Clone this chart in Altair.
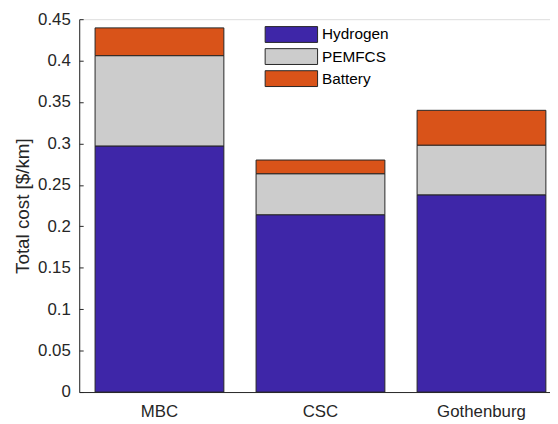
import altair as alt
import pandas as pd

categories = ["MBC", "CSC", "Gothenburg"]
series = ["Hydrogen", "PEMFCS", "Battery"]
hydrogen = [0.297, 0.214, 0.238]
pemfcs = [0.109, 0.0495, 0.060]
battery = [0.0335, 0.0165, 0.042]
y_ticks = [0, 0.05, 0.1, 0.15, 0.2, 0.25, 0.3, 0.35, 0.4, 0.45]
colors = ["#3E26A8", "#CCCCCC", "#D95319"]

rows = []
for i, c in enumerate(categories):
    for j, (s, vals) in enumerate(zip(series, [hydrogen, pemfcs, battery])):
        rows.append({"category": c, "component": s, "value": vals[i], "order": j})
df = pd.DataFrame(rows)

W, H = 476, 377
AX = "#262626"
FONT = "Liberation Sans"

xscale = alt.Scale(domain=categories, paddingInner=0.2, paddingOuter=0.062, align=0.794)
yscale = alt.Scale(domain=[0, 0.45], nice=False, zero=True)

bars = alt.Chart(df).mark_bar(stroke=AX, strokeWidth=1).encode(
    x=alt.X("category:N", scale=xscale, sort=categories,
            axis=alt.Axis(title=None, labelAngle=0, ticks=False, labelPadding=12,
                          labelFontSize=17, labelColor=AX, domainColor=AX,
                          labelFont=FONT)),
    y=alt.Y("value:Q", stack="zero", scale=yscale,
            axis=alt.Axis(title="Total cost [$/km]", values=y_ticks, format="~g",
                          ticks=False, labelPadding=9, grid=False,
                          labelFontSize=17, labelColor=AX, domainColor=AX,
                          labelFont=FONT, titleFont=FONT, titleFontSize=19,
                          titleFontWeight="normal", titleColor=AX, titlePadding=5)),
    color=alt.Color("component:N", scale=alt.Scale(domain=series, range=colors),
                    legend=alt.Legend(title=None, orient="none", legendX=206, legendY=7.0,
                                      symbolType="M-3.3125,-1L3.3125,-1L3.3125,1L-3.3125,1Z",
                                      symbolSize=256, symbolStrokeColor=AX,
                                      symbolStrokeWidth=1, labelFontSize=15.5,
                                      labelFont=FONT, labelColor="#000000",
                                      labelOffset=22.5, rowPadding=1.3, padding=0)),
    order=alt.Order("order:Q"),
)

tick_layer = alt.Chart(df).mark_point(opacity=0).encode(
    x=alt.X("category:N", scale=xscale, sort=categories,
            axis=alt.Axis(orient="top", offset=-H, labels=False, domain=False,
                          title=None, ticks=True, tickSize=4, tickColor=AX)),
    y=alt.Y("value:Q", stack=None, scale=yscale,
            axis=alt.Axis(orient="right", offset=-W, values=y_ticks, labels=False,
                          domain=False, title=None, ticks=True, tickSize=4,
                          tickColor=AX, grid=False)),
)

chart = alt.layer(bars, tick_layer).resolve_axis(
    x="independent", y="independent"
).properties(
    width=W, height=H,
    autosize=alt.AutoSizeParams(type="none"),
    padding={"left": 72, "top": 9, "right": 0, "bottom": 30},
).configure_view(stroke=None).configure(font=FONT)

chart.save("out.html", embed_options={"renderer": "svg", "actions": False})
